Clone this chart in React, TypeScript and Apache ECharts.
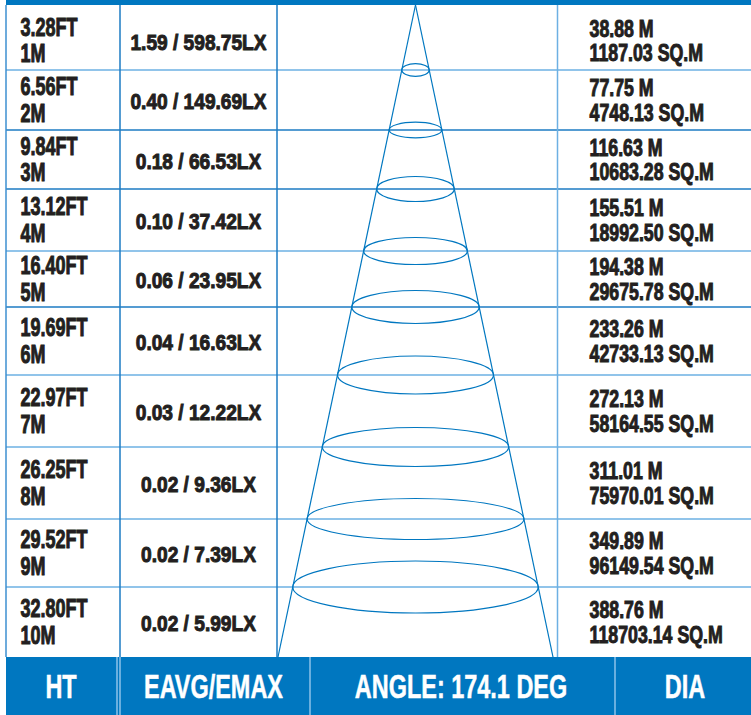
import { useEffect, useRef } from "react";
import * as echarts from "echarts";

// ---- data ----
const heightsFt = [3.28, 6.56, 9.84, 13.12, 16.4, 19.69, 22.97, 26.25, 29.52, 32.8];
const heightsM = [1, 2, 3, 4, 5, 6, 7, 8, 9, 10];
const eAvg = [1.59, 0.4, 0.18, 0.1, 0.06, 0.04, 0.03, 0.02, 0.02, 0.02];
const eMax = [598.75, 149.69, 66.53, 37.42, 23.95, 16.63, 12.22, 9.36, 7.39, 5.99];
const diameters = [38.88, 77.75, 116.63, 155.51, 194.38, 233.26, 272.13, 311.01, 349.89, 388.76];
const areas = [1187.03, 4748.13, 10683.28, 18992.5, 29675.78, 42733.13, 58164.55, 75970.01, 96149.54, 118703.14];
const beamAngle = 174.1;
const headerLabels = ["HT", "EAVG/EMAX", `ANGLE: ${beamAngle} DEG`, "DIA"];

// ---- layout (drawing units of the hidden layout axes) ----
const W = 751;
const H = 715;
const rowEdges = [5, 70, 130, 189, 251, 307, 375, 447, 519, 587, 657];
const colEdges = [6, 120, 277, 557.5];
const headerDividers = [117, 120, 310, 615];
const headerCenters = [61, 213.5, 461, 685];
const coneApex = [415.5, 5];
const coneHalfBase = 137.5;
const ellipseRy = [6.3, 7.8, 12.5, 13.5, 16.5, 19, 19.5, 20.5, 26];
const hLineLight = [true, false, false, true, false, true, true, true, true];

const BLUE = "#0077c0";
const LIGHT = "#6db0e3";
const DARK = "#1c7bc3";
const INK = "#231f20";
const FONT = "'Liberation Sans', Arial, sans-serif";

export default function App() {
  const ref = useRef<HTMLDivElement>(null);
  useEffect(() => {
    if (!ref.current) return;
    const chart = echarts.init(ref.current, null, { renderer: "svg" });

    const coneHalfAt = (y: number) => (coneHalfBase * (y - coneApex[1])) / (rowEdges[10] - coneApex[1]);

    const gridSeries: any = {
      type: "custom",
      coordinateSystem: "cartesian2d",
      data: [[0, 0]],
      silent: true,
      z: 1,
      renderItem: (_p: any, api: any) => {
        const c = (x: number, y: number) => api.coord([x, y]);
        const children: any[] = [];
        const tl = c(colEdges[0], 0);
        const br = c(W, rowEdges[0]);
        children.push({ type: "rect", shape: { x: tl[0], y: tl[1], width: br[0] - tl[0], height: br[1] - tl[1] }, style: { fill: BLUE } });
        for (let i = 1; i < rowEdges.length - 1; i++) {
          const a = c(colEdges[0], rowEdges[i]);
          const b = c(W, rowEdges[i]);
          children.push({ type: "line", shape: { x1: a[0], y1: a[1], x2: b[0], y2: b[1] }, style: { stroke: hLineLight[i - 1] ? LIGHT : DARK, lineWidth: 1.5 } });
        }
        colEdges.forEach((x, k) => {
          const a = c(x, rowEdges[0]);
          const b = c(x, rowEdges[10]);
          children.push({ type: "line", shape: { x1: a[0], y1: a[1], x2: b[0], y2: b[1] }, style: { stroke: k === 3 ? LIGHT : k === 0 ? "#3d8fd0" : DARK, lineWidth: 1.5 } });
        });
        return { type: "group", children };
      },
    };

    const coneSeries: any = {
      type: "custom",
      coordinateSystem: "cartesian2d",
      data: heightsM.slice(0, 9).map((m, i) => [i, m]),
      silent: true,
      z: 2,
      renderItem: (params: any, api: any) => {
        const i = api.value(0);
        const yc = rowEdges[i + 1];
        const rx = coneHalfAt(yc);
        const ctr = api.coord([coneApex[0], yc]);
        const edge = api.coord([coneApex[0] + rx, yc + ellipseRy[i]]);
        const children: any[] = [
          { type: "ellipse", shape: { cx: ctr[0], cy: ctr[1], rx: edge[0] - ctr[0], ry: edge[1] - ctr[1] }, style: { fill: "none", stroke: BLUE, lineWidth: 1.2 } },
        ];
        if (params.dataIndex === 0) {
          const ap = api.coord(coneApex);
          const l = api.coord([coneApex[0] - coneHalfBase, rowEdges[10]]);
          const r = api.coord([coneApex[0] + coneHalfBase, rowEdges[10]]);
          children.push({ type: "line", shape: { x1: ap[0], y1: ap[1], x2: l[0], y2: l[1] }, style: { stroke: BLUE, lineWidth: 1.2 } });
          children.push({ type: "line", shape: { x1: ap[0], y1: ap[1], x2: r[0], y2: r[1] }, style: { stroke: BLUE, lineWidth: 1.2 } });
        }
        return { type: "group", children };
      },
    };

    const txt = (x: number, y: number, text: string, size: number, sx: number, align: string, fill = INK) => ({
      type: "text",
      x,
      y,
      scaleX: sx,
      style: { text, x: 0, y: 0, fill, stroke: fill, lineWidth: 1, fontSize: size, fontFamily: FONT, fontWeight: "bold", align, verticalAlign: "middle" },
    });

    const textSeries: any = {
      type: "custom",
      coordinateSystem: "cartesian2d",
      data: heightsM.map((m, i) => [i, m]),
      silent: true,
      z: 3,
      renderItem: (_p: any, api: any) => {
        const i = api.value(0);
        const m = api.value(1);
        const top = i === 0 ? rowEdges[0] + 6 : rowEdges[i];
        const yc = (top + rowEdges[i + 1]) / 2;
        const L1 = api.coord([20.5, yc - 13.25]);
        const L2 = api.coord([20.5, yc + 13.25]);
        const M = api.coord([(colEdges[1] + colEdges[2]) / 2, yc + 1]);
        const R1 = api.coord([589.5, yc - 12.5]);
        const R2 = api.coord([589.5, yc + 12]);
        return {
          type: "group",
          children: [
            txt(L1[0], L1[1], `${heightsFt[i].toFixed(2)}FT`, 25, 0.72, "left"),
            txt(L2[0], L2[1], `${m}M`, 25, 0.72, "left"),
            txt(M[0], M[1], `${eAvg[i].toFixed(2)} / ${eMax[i].toFixed(2)}LX`, 22, 0.87, "center"),
            txt(R1[0], R1[1], `${diameters[i].toFixed(2)} M`, 24, 0.74, "left"),
            txt(R2[0], R2[1], `${areas[i].toFixed(2)} SQ.M`, 24, 0.74, "left"),
          ],
        };
      },
    };

    const headerSeries: any = {
      type: "custom",
      coordinateSystem: "cartesian2d",
      data: headerLabels.map((_l, i) => [i, 0]),
      silent: true,
      z: 4,
      renderItem: (params: any, api: any) => {
        const i = api.value(0);
        const children: any[] = [];
        if (params.dataIndex === 0) {
          const tl = api.coord([colEdges[0], rowEdges[10]]);
          const br = api.coord([W, H]);
          children.push({ type: "rect", shape: { x: tl[0], y: tl[1], width: br[0] - tl[0], height: br[1] - tl[1] }, style: { fill: BLUE } });
          headerDividers.forEach((x) => {
            const a = api.coord([x, rowEdges[10]]);
            const b = api.coord([x, H]);
            children.push({ type: "line", shape: { x1: a[0], y1: a[1], x2: b[0], y2: b[1] }, style: { stroke: "#8cc2ea", lineWidth: 1.5 } });
          });
        }
        const p = api.coord([headerCenters[i], (rowEdges[10] + H) / 2]);
        const t: any = txt(p[0], p[1], headerLabels[i], 34, 0.69, "center", "#ffffff");
        t.style.lineWidth = 0.5;
        children.push(t);
        return { type: "group", children };
      },
    };

    chart.setOption({
      animation: false,
      grid: { left: 0, right: 0, top: 0, bottom: 0 },
      xAxis: { type: "value", min: 0, max: W, show: false },
      yAxis: { type: "value", min: 0, max: H, inverse: true, show: false },
      series: [gridSeries, coneSeries, textSeries, headerSeries],
    });
    return () => chart.dispose();
  }, []);
  return <div ref={ref} style={{ position: "fixed", left: 0, top: 0, width: W, height: H, background: "#ffffff" }} />;
}
